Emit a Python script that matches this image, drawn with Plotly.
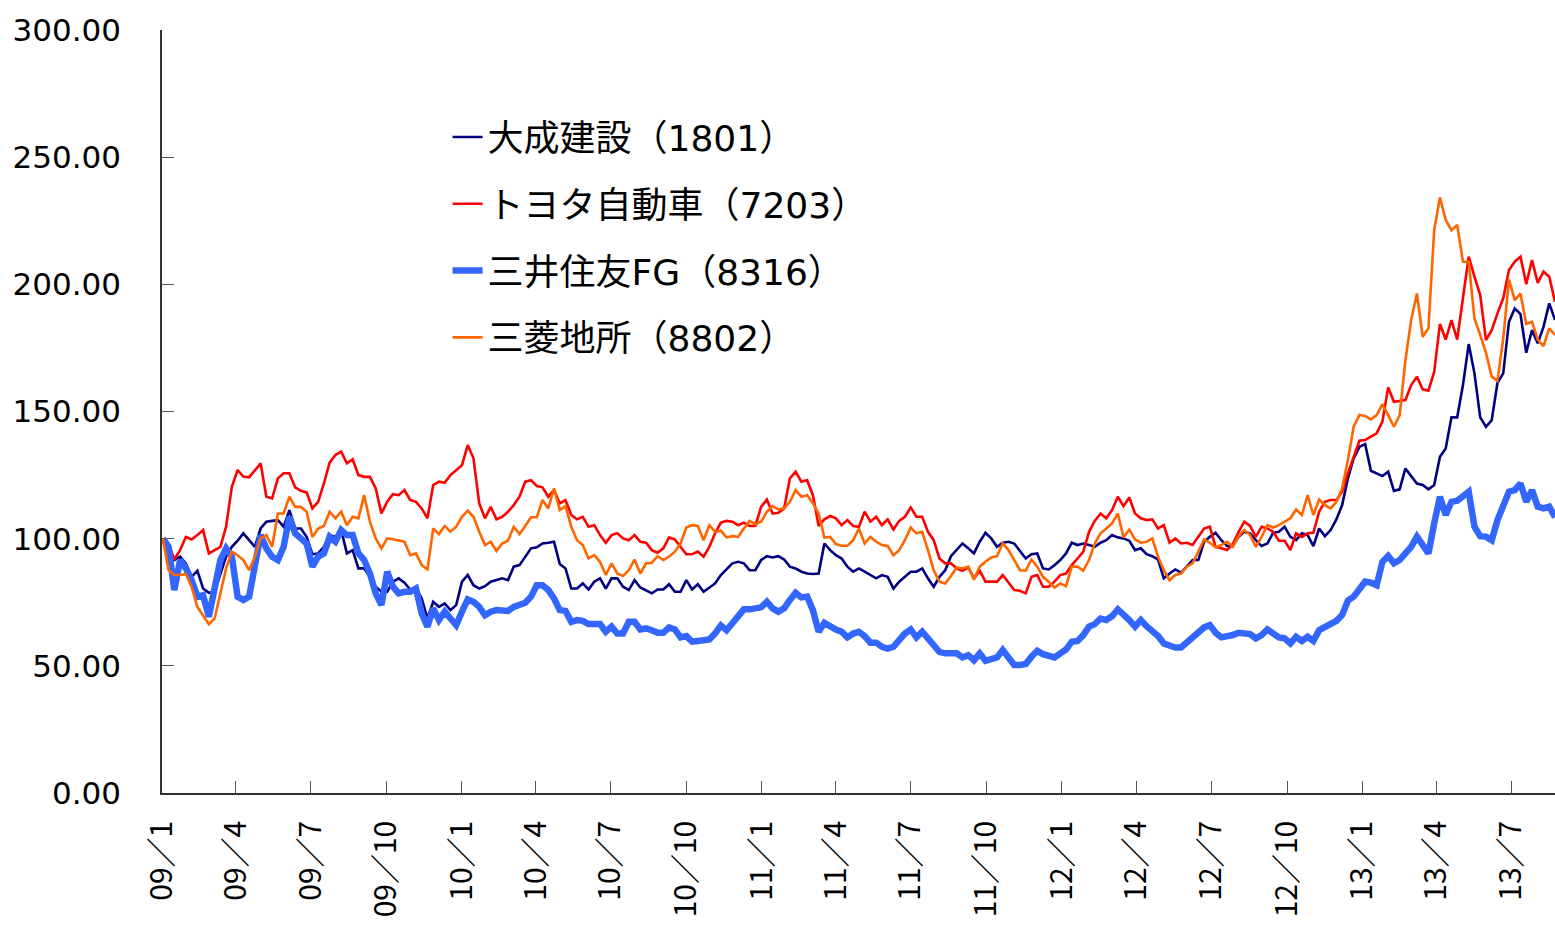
import pandas as pd
import plotly.graph_objects as go

# weekly closes (Fridays), indexed to 100 at the first week of 2009
dates = pd.date_range("2009-01-02", periods=243, freq="7D")

taisei = [
    100, 95.5, 91.6, 92.9, 90.3, 85.0, 87.4, 80.4, 78.7, 79.1, 86.3, 92.9, 96.8, 99.2, 102.1, 99.4, 96.8, 104.0, 106.7, 107.0, 107.3, 104.7, 111.2, 104.0, 104.0, 100.7, 93.9, 94.2, 96.8, 101.4, 100.7, 103.4, 94.2, 95.5, 88.3, 88.3, 85.0, 81.1, 79.1, 79.1, 83.1, 84.4,
    82.7, 80.0, 80.8, 76.5, 68.6, 75.2, 73.2, 74.5, 71.9, 73.9, 83.1, 85.7, 81.7, 80.4, 81.3, 83.1, 83.7, 84.4, 83.7, 89.0, 89.6, 92.9, 96.2, 96.6, 98.1, 98.4, 98.8, 90.0, 88.3, 80.4, 80.4, 82.4, 80.0, 83.1, 84.4, 80.4, 84.4, 84.4, 81.1, 79.8,
    83.7, 80.8, 79.5, 78.5, 80.0, 80.0, 82.1, 79.1, 79.1, 83.7, 80.0, 82.1, 79.1, 80.8, 82.4, 85.7, 87.9, 90.3, 90.9, 90.3, 87.6, 87.6, 91.6, 93.1, 92.6, 93.1, 91.8, 89.0, 88.3, 87.0, 86.3, 86.1, 86.3, 98.1, 95.5, 93.5, 92.2, 89.0, 87.0, 88.3,
    87.0, 85.7, 84.4, 85.7, 85.0, 80.4, 83.1, 85.0, 87.0, 87.0, 88.3, 84.4, 81.1, 85.0, 87.6, 93.1, 95.5, 98.1, 96.2, 94.2, 98.8, 102.3, 100.1, 96.8, 98.4, 98.8, 98.1, 94.9, 92.2, 93.9, 94.2, 88.3, 87.9, 89.6, 91.6, 94.2, 98.4, 97.5, 98.1, 97.5,
    96.8, 98.4, 99.4, 101.4, 100.5, 100.1, 99.2, 95.5, 96.2, 93.9, 93.1, 91.8, 84.4, 86.3, 87.9, 86.6, 89.2, 91.6, 91.6, 98.8, 100.7, 102.3, 99.4, 97.1, 97.1, 100.7, 102.7, 102.1, 99.4, 97.1, 98.1, 102.3, 102.7, 104.7, 100.7, 99.4, 102.1, 101.4, 97.1, 104.0,
    101.0, 103.4, 107.6, 113.2, 123.7, 131.6, 136.1, 137.2, 126.7, 125.7, 124.6, 126.3, 118.8, 119.4, 127.6, 124.6, 121.7, 121.1, 119.4, 121.1, 132.2, 135.5, 147.7, 147.7, 160.4, 176.5, 165.0, 147.7, 144.0, 146.6, 161.3, 165.0, 185.3, 190.5, 188.3, 173.1, 182.0, 176.8, 183.3, 192.5, 186.0,
]

toyota = [
    100, 98.1, 91.8, 95.5, 100.7, 99.7, 101.4, 103.4, 94.2, 95.5, 96.8, 104.7, 120.4, 127.0, 124.4, 124.1, 127.0, 129.6, 116.5, 115.8, 123.7, 125.7, 125.7, 120.2, 118.8, 118.2, 111.9, 114.5, 121.7, 129.9, 132.9, 134.2, 129.6, 131.2, 125.0, 124.3, 124.3, 119.8, 109.9, 114.5, 117.5, 117.1,
    119.1, 115.2, 114.5, 111.9, 108.0, 121.1, 122.4, 122.0, 125.0, 127.0, 128.9, 136.8, 131.6, 113.9, 108.0, 112.5, 107.6, 108.6, 110.6, 113.2, 116.5, 122.4, 123.0, 120.7, 120.2, 116.5, 119.1, 113.9, 115.2, 109.3, 107.6, 108.6, 104.7, 105.3, 101.4, 98.4, 101.4, 102.1, 100.1, 99.4,
    101.4, 98.8, 98.4, 95.5, 94.5, 96.2, 100.5, 99.7, 96.8, 93.9, 93.9, 94.9, 92.9, 96.8, 102.1, 106.3, 107.0, 106.7, 105.3, 106.3, 105.0, 105.0, 112.5, 115.4, 109.9, 110.2, 111.9, 123.7, 126.3, 122.4, 123.0, 117.1, 105.0, 107.6, 108.9, 108.0, 105.3, 107.3, 105.0, 104.7,
    110.6, 106.7, 108.6, 105.3, 107.6, 103.6, 107.0, 108.6, 112.3, 108.6, 108.6, 102.7, 99.4, 92.2, 90.3, 90.3, 88.3, 87.4, 88.7, 84.4, 87.4, 83.1, 83.1, 83.1, 85.7, 82.7, 79.8, 79.5, 78.5, 85.0, 85.7, 81.1, 81.1, 83.1, 85.7, 86.3, 89.6, 92.2, 94.9, 102.7,
    107.0, 109.9, 108.0, 111.2, 116.5, 112.8, 116.2, 109.9, 108.0, 107.3, 107.6, 104.0, 105.3, 98.4, 100.1, 98.1, 98.4, 97.5, 100.7, 104.0, 104.7, 96.8, 96.2, 95.5, 97.9, 102.7, 106.7, 105.0, 100.7, 104.7, 104.0, 102.7, 99.2, 99.2, 95.5, 102.1, 100.7, 102.1, 102.3, 110.6,
    114.5, 115.2, 115.2, 118.5, 125.7, 132.2, 138.5, 138.8, 140.1, 141.4, 146.0, 159.5, 153.8, 154.2, 154.5, 160.4, 163.7, 158.7, 158.2, 165.6, 184.4, 178.3, 185.9, 178.3, 195.1, 210.9, 203.0, 195.8, 178.1, 182.0, 188.6, 194.5, 205.6, 208.9, 210.9, 200.1, 209.5, 200.6, 205.0, 203.0, 193.2,
]

smfg = [
    100, 96.8, 79.8, 91.6, 88.3, 83.7, 77.2, 77.8, 69.3, 81.1, 91.6, 96.2, 92.9, 77.2, 75.9, 77.2, 89.0, 101.4, 96.2, 92.9, 91.6, 96.8, 108.6, 102.1, 100.1, 98.1, 89.0, 92.9, 94.2, 100.7, 98.8, 103.4, 101.4, 101.4, 94.2, 91.6, 86.3, 78.5, 73.9, 87.0, 81.1, 78.5,
    79.1, 79.1, 80.4, 70.6, 65.4, 72.6, 68.0, 71.3, 68.6, 66.0, 71.3, 76.1, 75.2, 73.2, 69.9, 71.3, 71.9, 71.6, 71.6, 73.2, 74.3, 74.8, 77.2, 81.7, 81.7, 79.8, 76.5, 71.9, 71.6, 67.3, 68.0, 67.7, 66.4, 66.4, 66.4, 63.4, 65.4, 62.7, 62.7, 67.3,
    67.3, 64.3, 64.7, 64.0, 63.0, 63.0, 65.1, 64.3, 61.2, 61.7, 59.5, 59.8, 60.1, 60.4, 62.7, 65.9, 64.0, 66.7, 69.3, 72.2, 72.2, 72.4, 73.0, 75.2, 72.6, 71.3, 72.6, 75.9, 78.7, 76.9, 77.2, 71.9, 63.4, 66.9, 65.4, 64.3, 63.4, 61.2, 62.7, 63.4,
    61.7, 59.1, 59.1, 57.5, 56.8, 57.5, 60.1, 62.7, 64.3, 61.2, 63.4, 60.8, 58.8, 55.5, 54.9, 54.6, 54.9, 53.3, 54.2, 52.2, 54.9, 52.0, 52.9, 53.3, 56.2, 53.6, 50.3, 50.3, 50.7, 53.6, 55.9, 54.6, 53.8, 53.3, 54.9, 56.4, 59.5, 59.8, 62.1, 65.4,
    66.4, 68.6, 68.0, 69.5, 72.2, 70.3, 68.0, 65.4, 68.0, 65.6, 64.0, 61.7, 58.8, 57.7, 57.2, 57.2, 59.1, 61.2, 62.7, 65.1, 66.0, 63.0, 61.2, 61.4, 62.1, 63.0, 62.7, 62.5, 60.8, 62.1, 64.3, 62.7, 61.2, 60.8, 58.8, 61.4, 59.8, 61.4, 59.8, 64.0,
    65.4, 66.3, 67.7, 70.0, 75.6, 77.2, 80.0, 83.1, 82.7, 81.7, 90.9, 93.2, 90.3, 91.6, 94.2, 96.8, 100.8, 97.1, 94.2, 106.0, 116.5, 109.3, 114.5, 114.9, 116.5, 118.5, 104.7, 101.0, 100.8, 99.4, 107.3, 112.6, 118.5, 119.1, 121.7, 114.5, 119.1, 112.6, 111.9, 112.6, 108.4,
]

mec = [
    100, 87.6, 85.7, 85.7, 86.1, 81.1, 73.2, 69.9, 66.4, 68.6, 78.5, 88.3, 94.9, 93.5, 91.6, 87.6, 92.9, 100.1, 101.4, 96.8, 109.9, 109.9, 116.5, 112.5, 112.5, 110.6, 100.7, 104.0, 105.0, 110.6, 108.0, 110.6, 105.3, 108.6, 108.0, 117.1, 106.7, 100.1, 96.2, 100.1, 99.8, 99.4,
    98.8, 93.5, 94.2, 89.6, 87.9, 104.0, 101.8, 105.0, 102.7, 104.7, 108.6, 111.0, 108.6, 102.7, 97.5, 98.8, 95.2, 98.1, 99.2, 104.7, 101.8, 105.0, 108.4, 108.4, 115.2, 111.9, 119.8, 111.2, 112.8, 104.7, 99.4, 97.5, 92.2, 93.5, 90.9, 85.7, 90.3, 86.3, 85.3, 87.6,
    91.8, 86.3, 90.3, 90.5, 93.1, 91.6, 92.9, 94.9, 98.1, 104.4, 105.3, 105.0, 99.4, 105.3, 102.7, 103.1, 100.5, 101.0, 100.7, 104.0, 107.0, 105.7, 106.7, 110.6, 112.8, 111.5, 111.9, 114.5, 119.1, 116.5, 117.1, 113.9, 109.9, 100.4, 100.7, 97.9, 97.2, 97.2, 99.4, 104.0,
    98.1, 100.7, 98.8, 97.5, 97.1, 93.5, 95.5, 99.4, 104.4, 102.1, 102.7, 95.5, 87.6, 83.1, 82.4, 85.3, 88.7, 88.3, 89.0, 84.0, 89.0, 90.9, 92.6, 93.1, 98.1, 95.5, 91.6, 87.6, 87.4, 91.8, 89.0, 85.0, 83.1, 80.8, 82.4, 81.3, 89.0, 89.0, 87.4, 91.6,
    98.1, 102.1, 104.0, 106.0, 109.9, 100.5, 103.6, 99.7, 98.4, 98.8, 100.1, 92.9, 87.6, 83.7, 85.7, 86.3, 89.0, 90.3, 94.9, 99.7, 98.4, 96.6, 97.5, 98.8, 96.8, 101.0, 103.4, 101.4, 96.8, 100.7, 105.3, 104.4, 105.3, 106.7, 108.0, 111.5, 109.3, 117.1, 109.3, 115.4,
    113.2, 111.9, 114.5, 119.8, 130.9, 144.0, 148.6, 148.2, 146.9, 148.6, 152.9, 148.6, 144.0, 148.6, 170.2, 186.0, 196.4, 179.4, 182.7, 221.3, 234.2, 225.3, 221.3, 223.3, 208.9, 208.9, 186.6, 180.1, 173.1, 163.7, 162.1, 178.7, 201.9, 193.8, 196.4, 184.4, 185.3, 178.3, 175.7, 182.7, 180.1,
]

series_names = ["大成建設（1801）", "トヨタ自動車（7203）", "三井住友FG（8316）", "三菱地所（8802）"]
tick_dates = ["2009-01-01", "2009-04-01", "2009-07-01", "2009-10-01",
              "2010-01-01", "2010-04-01", "2010-07-01", "2010-10-01",
              "2011-01-01", "2011-04-01", "2011-07-01", "2011-10-01",
              "2012-01-01", "2012-04-01", "2012-07-01", "2012-10-01",
              "2013-01-01", "2013-04-01", "2013-07-01"]
tick_labels = ["09／1", "09／4", "09／7", "09／10", "10／1", "10／4", "10／7", "10／10",
               "11／1", "11／4", "11／7", "11／10", "12／1", "12／4", "12／7", "12／10",
               "13／1", "13／4", "13／7"]

styles = [("#000080", 2.6), ("#FF0000", 2.6), ("#3366FF", 6.5), ("#FF6600", 2.6)]
values = [taisei, toyota, smfg, mec]

CJK = "Noto Sans CJK JP"
MIX = "DejaVu Sans, Noto Sans CJK JP"
fig = go.Figure()
for name, vals, (col, w) in zip(series_names, values, styles):
    fig.add_trace(go.Scatter(x=dates, y=vals, mode="lines", name=name,
                             legendgroup=name,
                             line=dict(color=col, width=w)))

fig.update_layout(
    width=1555, height=925,
    margin=dict(l=162, r=0, t=30, b=132),
    paper_bgcolor="white", plot_bgcolor="white",
    font=dict(family=CJK, color="black"),
    showlegend=True,
    legend=dict(x=0.205, y=0.899, xanchor="left", yanchor="top",
                bgcolor="rgba(0,0,0,0)", tracegroupgap=17,
                font=dict(family=MIX, size=36, color="black")),
    xaxis=dict(type="date", range=["2009-01-01", "2013-08-23"],
               tickvals=tick_dates, ticktext=tick_labels, tickangle=-90,
               tickfont=dict(family=CJK, size=30, color="black"),
               ticks="inside", ticklen=12, tickcolor="#555", tickwidth=1,
               showline=True, linecolor="#333", linewidth=1.5,
               showgrid=False, zeroline=False, ticklabelstandoff=14,
               automargin=False),
    yaxis=dict(range=[0, 300], tickvals=[0, 50, 100, 150, 200, 250, 300],
               tickformat=".2f",
               tickfont=dict(family="DejaVu Sans", size=31, color="black"),
               ticks="inside", ticklen=12, tickcolor="#555", tickwidth=1,
               showline=True, linecolor="#333", linewidth=1.5,
               showgrid=False, zeroline=False, ticklabelstandoff=33,
               automargin=False),
)

fig.write_html("out.html", config={"displayModeBar": False},
               post_script="document.body.style.margin='0';")
